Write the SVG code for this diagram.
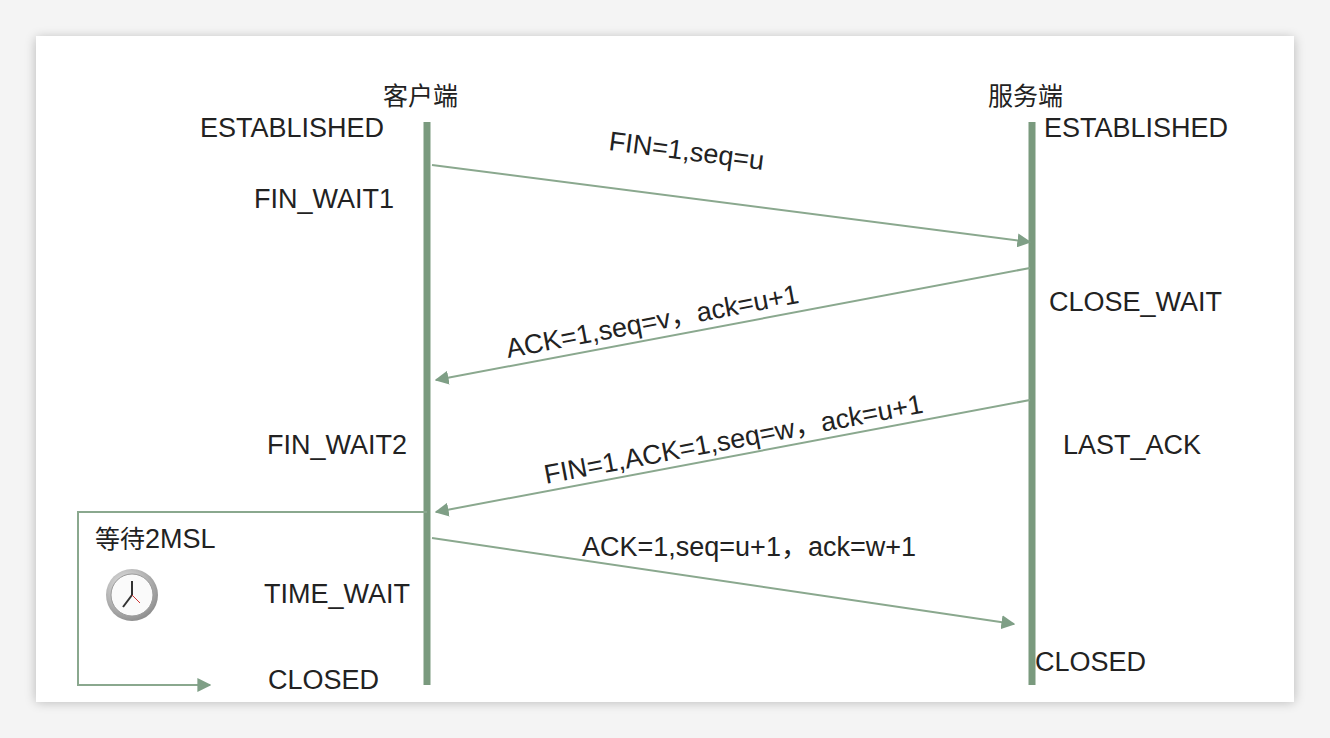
<svg xmlns="http://www.w3.org/2000/svg" width="1330" height="738" viewBox="0 0 1330 738">
<defs>
<filter id="sh" x="-5%" y="-5%" width="110%" height="110%"><feGaussianBlur stdDeviation="6"/></filter>
<marker id="ah" viewBox="0 0 10 10" refX="9" refY="5" markerWidth="7" markerHeight="7" orient="auto"><path d="M0,0 L10,5 L0,10 z" fill="#7f9f86"/></marker>
<radialGradient id="cg" cx="0.4" cy="0.35" r="0.7"><stop offset="0" stop-color="#f2f2f2"/><stop offset="1" stop-color="#8a8a8a"/></radialGradient>
</defs>
<style>
text{font-family:"Liberation Sans",Arial,"Noto Sans CJK SC",sans-serif;fill:#222;font-size:27px}
.cn{font-family:"Noto Sans CJK SC",sans-serif;font-size:25px}
.life{stroke:#7a9a7e;stroke-width:7}
.msg{stroke:#8aa88e;stroke-width:2;fill:none;marker-end:url(#ah)}
</style>
<rect width="1330" height="738" fill="#f4f4f4"/>
<rect x="36" y="38" width="1258" height="664" fill="#000" opacity="0.25" filter="url(#sh)"/>
<rect x="36" y="36" width="1258" height="666" fill="#fff"/>
<g id="client"><line class="life" x1="427" y1="122" x2="427" y2="685"/><text class="cn" x="383" y="105">客户端</text></g>
<g id="server"><line class="life" x1="1032" y1="122" x2="1032" y2="685"/><text class="cn" x="988" y="105">服务端</text></g>
<g id="states">
<text x="200" y="137">ESTABLISHED</text>
<text x="254" y="208">FIN_WAIT1</text>
<text x="267" y="454">FIN_WAIT2</text>
<text x="264" y="603">TIME_WAIT</text>
<text x="268" y="689">CLOSED</text>
<text x="1044" y="137">ESTABLISHED</text>
<text x="1049" y="311">CLOSE_WAIT</text>
<text x="1063" y="454">LAST_ACK</text>
<text x="1035" y="671">CLOSED</text>
<text x="95" y="548"><tspan class="cn">等待</tspan>2MSL</text>
</g>
<g id="clock" transform="translate(132,595)">
<circle r="26" fill="url(#cg)"/><circle r="21" fill="#fafafa" stroke="#999"/>
<line x1="0" y1="0" x2="0" y2="-14" stroke="#333" stroke-width="2"/>
<line x1="0" y1="0" x2="-9" y2="12" stroke="#333" stroke-width="2"/>
<line x1="0" y1="0" x2="8" y2="8" stroke="#c33" stroke-width="1"/>
</g>
<g id="connectors">
<line class="msg" x1="432" y1="165" x2="1030" y2="242"/>
<line class="msg" x1="1030" y1="268" x2="436" y2="380"/>
<line class="msg" x1="1030" y1="400" x2="436" y2="512"/>
<line class="msg" x1="432" y1="538" x2="1014" y2="624"/>
<path class="msg" d="M427,512 H78 V685 H210"/>
</g>
<g id="labels">
<text transform="translate(608,150) rotate(7.3)">FIN=1,seq=u</text>
<text transform="translate(508,358) rotate(-10.7)">ACK=1,seq=v，ack=u+1</text>
<text transform="translate(546,484) rotate(-10.7)">FIN=1,ACK=1,seq=w，ack=u+1</text>
<text x="582" y="556">ACK=1,seq=u+1，ack=w+1</text>
</g>
</svg>
